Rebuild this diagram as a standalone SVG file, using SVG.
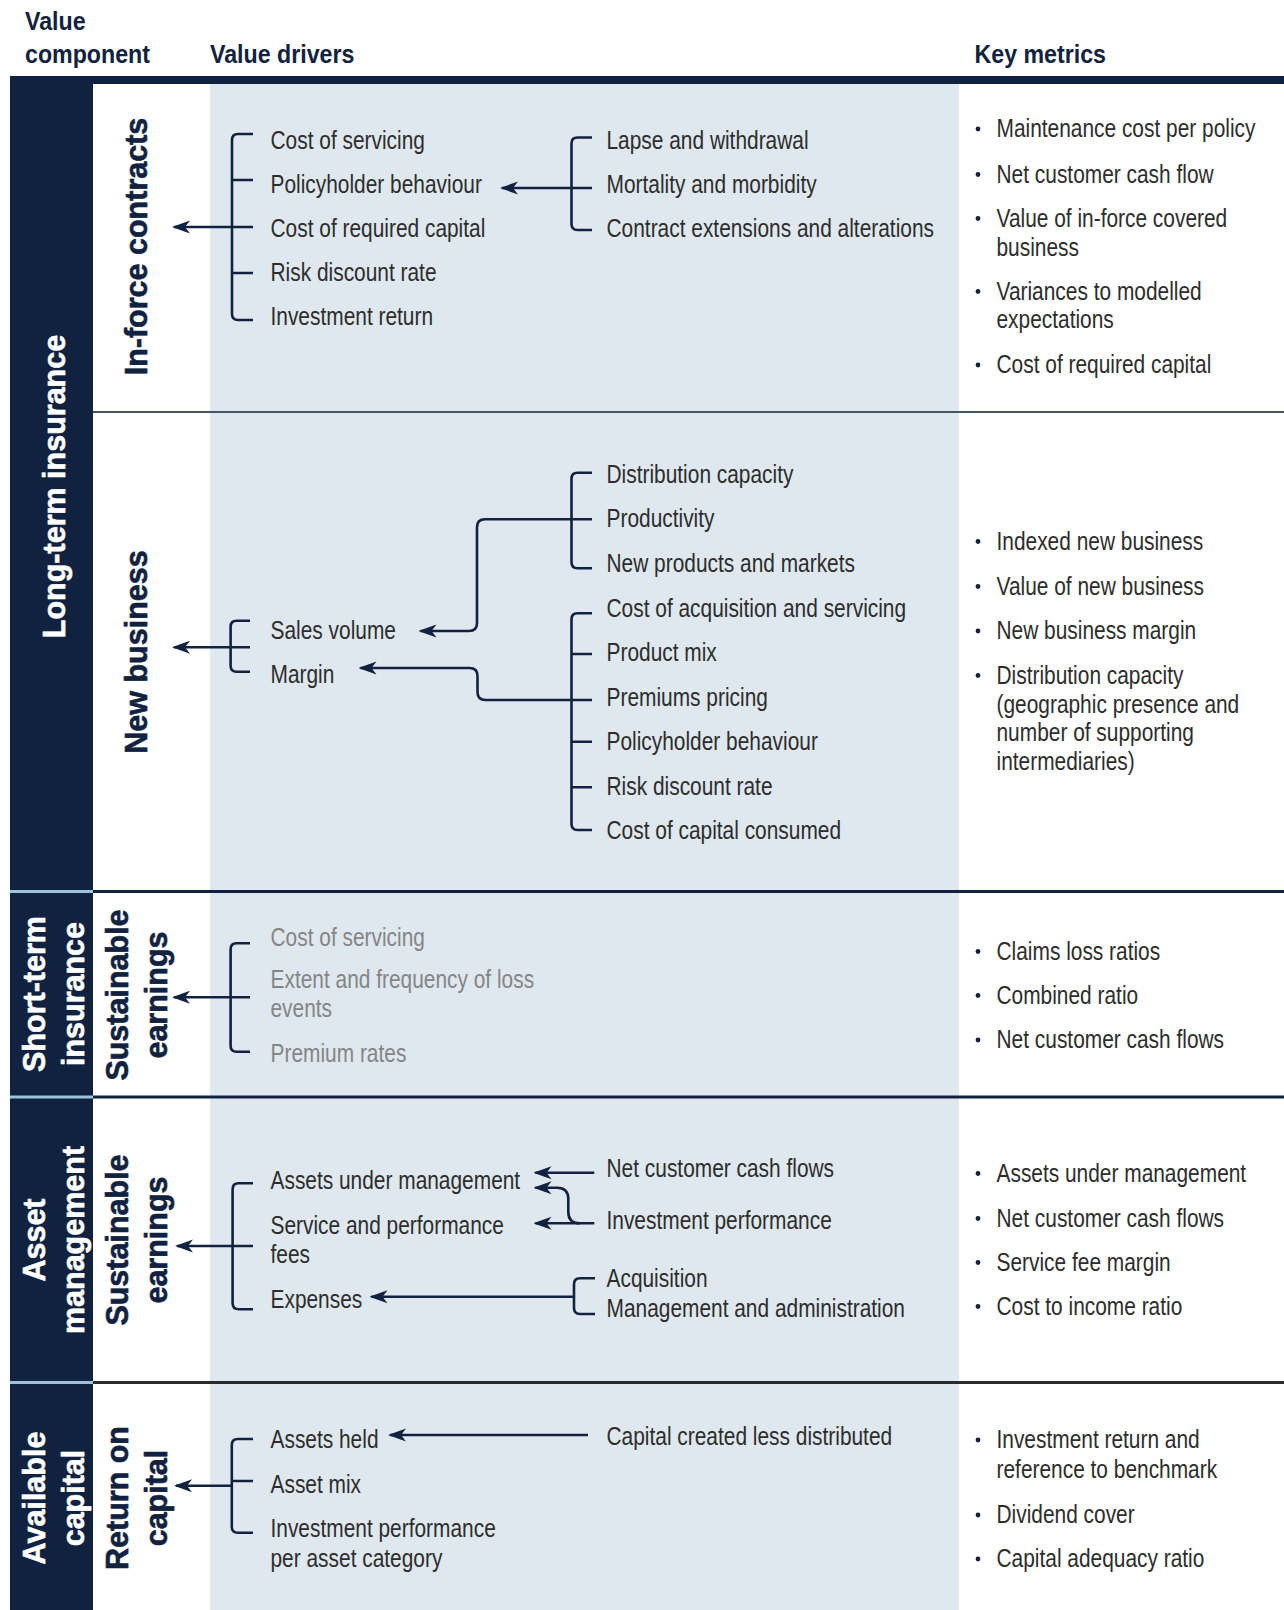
<svg xmlns="http://www.w3.org/2000/svg" width="1284" height="1610" viewBox="0 0 1284 1610">
<defs>
<style>
.t{font-family:"Liberation Sans",Arial,sans-serif;font-size:25.5px;fill:#2d2d2d}
.g{fill:#858585}
.h{font-family:"Liberation Sans",Arial,sans-serif;font-weight:bold;font-size:25.5px;fill:#10223f}
.v{font-family:"Liberation Sans",Arial,sans-serif;font-weight:bold;font-size:30.5px;text-anchor:middle;stroke-width:0.6}
.vw{fill:#ffffff;stroke:#ffffff}
.vn{fill:#10223f;stroke:#10223f}
.c{fill:none;stroke:#10223f;stroke-width:2.6}
.a{fill:none;stroke:#10223f;stroke-width:2.6;marker-end:url(#ah)}
.b{fill:#10223f}
</style>
<marker id="ah" markerUnits="userSpaceOnUse" viewBox="0 0 18 14" refX="16" refY="7" markerWidth="18" markerHeight="14" orient="auto">
<path d="M18,7 L0,0.5 L5,7 L0,13.5 Z" fill="#10223f"/>
</marker>
</defs>

<g id="background">
<rect x="0" y="0" width="1284" height="1610" fill="#ffffff"/>
<rect x="210" y="84" width="749" height="1526" fill="#dfe8ef"/>
<rect x="10" y="76" width="83" height="1534" fill="#10223f"/>
<rect x="10" y="76" width="1274" height="8" fill="#10223f"/>
<line x1="93" y1="412" x2="1284" y2="412" stroke="#44556b" stroke-width="2"/>
<line x1="93" y1="891.5" x2="1284" y2="891.5" stroke="#10223f" stroke-width="3"/>
<line x1="10" y1="891.5" x2="93" y2="891.5" stroke="#9cc2dc" stroke-width="3"/>
<line x1="93" y1="1097" x2="1284" y2="1097" stroke="#10223f" stroke-width="3"/>
<line x1="10" y1="1097" x2="93" y2="1097" stroke="#9cc2dc" stroke-width="3"/>
<line x1="93" y1="1382.5" x2="1284" y2="1382.5" stroke="#2b2b2b" stroke-width="3"/>
<line x1="10" y1="1382.5" x2="93" y2="1382.5" stroke="#9cc2dc" stroke-width="3"/>
</g>

<g id="header">
<g transform="matrix(0.91 0 0 1 25 0)">
<text class="h" x="0" y="30">Value</text>
<text class="h" x="0" y="63.5">component</text>
</g>
<g transform="matrix(0.91 0 0 1 210 0)"><text class="h" x="0" y="63.5">Value drivers</text></g>
<g transform="matrix(0.91 0 0 1 974.5 0)"><text class="h" x="0" y="63.5">Key metrics</text></g>
</g>

<g id="component-labels">
<g id="long-term-insurance"><text class="v vw" x="64.5" y="486.5" transform="rotate(-90 64.5 486.5)">Long-term insurance</text></g>
<g id="short-term-insurance">
<text class="v vw" x="44.5" y="994" transform="rotate(-90 44.5 994)">Short-term</text>
<text class="v vw" x="83.5" y="994" transform="rotate(-90 83.5 994)">insurance</text>
</g>
<g id="asset-management">
<text class="v vw" x="45" y="1240" transform="rotate(-90 45 1240)">Asset</text>
<text class="v vw" x="84" y="1240" transform="rotate(-90 84 1240)">management</text>
</g>
<g id="available-capital">
<text class="v vw" x="45" y="1498" transform="rotate(-90 45 1498)">Available</text>
<text class="v vw" x="84" y="1498" transform="rotate(-90 84 1498)">capital</text>
</g>
<g id="in-force-contracts"><text class="v vn" x="147" y="246.5" transform="rotate(-90 147 246.5)">In-force contracts</text></g>
<g id="new-business"><text class="v vn" x="147" y="652" transform="rotate(-90 147 652)">New business</text></g>
<g id="st-sustainable-earnings">
<text class="v vn" x="128" y="995" transform="rotate(-90 128 995)">Sustainable</text>
<text class="v vn" x="167" y="995" transform="rotate(-90 167 995)">earnings</text>
</g>
<g id="am-sustainable-earnings">
<text class="v vn" x="128" y="1240" transform="rotate(-90 128 1240)">Sustainable</text>
<text class="v vn" x="167" y="1240" transform="rotate(-90 167 1240)">earnings</text>
</g>
<g id="return-on-capital">
<text class="v vn" x="128" y="1498" transform="rotate(-90 128 1498)">Return on</text>
<text class="v vn" x="167" y="1498" transform="rotate(-90 167 1498)">capital</text>
</g>
</g>

<g id="drivers-in-force" transform="matrix(0.82 0 0 1 270.5 0)">
<text class="t" x="0" y="149">Cost of servicing</text>
<text class="t" x="0" y="193">Policyholder behaviour</text>
<text class="t" x="0" y="237">Cost of required capital</text>
<text class="t" x="0" y="281">Risk discount rate</text>
<text class="t" x="0" y="325">Investment return</text>
</g>
<g id="subdrivers-in-force" transform="matrix(0.82 0 0 1 606.5 0)">
<text class="t" x="0" y="149">Lapse and withdrawal</text>
<text class="t" x="0" y="193">Mortality and morbidity</text>
<text class="t" x="0" y="237">Contract extensions and alterations</text>
</g>

<g id="drivers-new-business" transform="matrix(0.82 0 0 1 270.5 0)">
<text class="t" x="0" y="639.5">Sales volume</text>
<text class="t" x="0" y="683.5">Margin</text>
</g>
<g id="subdrivers-sales-volume" transform="matrix(0.82 0 0 1 606.5 0)">
<text class="t" x="0" y="483">Distribution capacity</text>
<text class="t" x="0" y="527.5">Productivity</text>
<text class="t" x="0" y="572.5">New products and markets</text>
</g>
<g id="subdrivers-margin" transform="matrix(0.82 0 0 1 606.5 0)">
<text class="t" x="0" y="617.5">Cost of acquisition and servicing</text>
<text class="t" x="0" y="661.5">Product mix</text>
<text class="t" x="0" y="706">Premiums pricing</text>
<text class="t" x="0" y="750.5">Policyholder behaviour</text>
<text class="t" x="0" y="795">Risk discount rate</text>
<text class="t" x="0" y="839.5">Cost of capital consumed</text>
</g>

<g id="drivers-short-term" transform="matrix(0.82 0 0 1 270.5 0)">
<text class="t g" x="0" y="946">Cost of servicing</text>
<text class="t g" x="0" y="988.5">Extent and frequency of loss</text>
<text class="t g" x="0" y="1017.5">events</text>
<text class="t g" x="0" y="1062.5">Premium rates</text>
</g>

<g id="drivers-asset-management" transform="matrix(0.82 0 0 1 270.5 0)">
<text class="t" x="0" y="1189.5">Assets under management</text>
<text class="t" x="0" y="1234">Service and performance</text>
<text class="t" x="0" y="1263">fees</text>
<text class="t" x="0" y="1308.5">Expenses</text>
</g>
<g id="subdrivers-asset-management" transform="matrix(0.82 0 0 1 606.5 0)">
<text class="t" x="0" y="1177">Net customer cash flows</text>
<text class="t" x="0" y="1229.5">Investment performance</text>
<text class="t" x="0" y="1287">Acquisition</text>
<text class="t" x="0" y="1317">Management and administration</text>
</g>

<g id="drivers-available-capital" transform="matrix(0.82 0 0 1 270.5 0)">
<text class="t" x="0" y="1448.5">Assets held</text>
<text class="t" x="0" y="1493.5">Asset mix</text>
<text class="t" x="0" y="1537.5">Investment performance</text>
<text class="t" x="0" y="1567.5">per asset category</text>
</g>
<g id="subdrivers-available-capital" transform="matrix(0.82 0 0 1 606.5 0)">
<text class="t" x="0" y="1445">Capital created less distributed</text>
</g>

<g id="metrics-in-force">
<circle class="b" cx="978" cy="129" r="2.4"/>
<circle class="b" cx="978" cy="174.5" r="2.4"/>
<circle class="b" cx="978" cy="218.5" r="2.4"/>
<circle class="b" cx="978" cy="291.5" r="2.4"/>
<circle class="b" cx="978" cy="365" r="2.4"/>
<g transform="matrix(0.82 0 0 1 996.5 0)">
<text class="t" x="0" y="137.5">Maintenance cost per policy</text>
<text class="t" x="0" y="183">Net customer cash flow</text>
<text class="t" x="0" y="227">Value of in-force covered</text>
<text class="t" x="0" y="256">business</text>
<text class="t" x="0" y="300">Variances to modelled</text>
<text class="t" x="0" y="328.5">expectations</text>
<text class="t" x="0" y="373.5">Cost of required capital</text>
</g>
</g>
<g id="metrics-new-business">
<circle class="b" cx="978" cy="541.5" r="2.4"/>
<circle class="b" cx="978" cy="586.5" r="2.4"/>
<circle class="b" cx="978" cy="631" r="2.4"/>
<circle class="b" cx="978" cy="675.5" r="2.4"/>
<g transform="matrix(0.82 0 0 1 996.5 0)">
<text class="t" x="0" y="550">Indexed new business</text>
<text class="t" x="0" y="595">Value of new business</text>
<text class="t" x="0" y="639.5">New business margin</text>
<text class="t" x="0" y="684">Distribution capacity</text>
<text class="t" x="0" y="713">(geographic presence and</text>
<text class="t" x="0" y="741.5">number of supporting</text>
<text class="t" x="0" y="770">intermediaries)</text>
</g>
</g>
<g id="metrics-short-term">
<circle class="b" cx="978" cy="951.5" r="2.4"/>
<circle class="b" cx="978" cy="995.5" r="2.4"/>
<circle class="b" cx="978" cy="1040" r="2.4"/>
<g transform="matrix(0.82 0 0 1 996.5 0)">
<text class="t" x="0" y="960">Claims loss ratios</text>
<text class="t" x="0" y="1004">Combined ratio</text>
<text class="t" x="0" y="1048.5">Net customer cash flows</text>
</g>
</g>
<g id="metrics-asset-management">
<circle class="b" cx="978" cy="1173.5" r="2.4"/>
<circle class="b" cx="978" cy="1218.5" r="2.4"/>
<circle class="b" cx="978" cy="1262.5" r="2.4"/>
<circle class="b" cx="978" cy="1306.5" r="2.4"/>
<g transform="matrix(0.82 0 0 1 996.5 0)">
<text class="t" x="0" y="1182">Assets under management</text>
<text class="t" x="0" y="1227">Net customer cash flows</text>
<text class="t" x="0" y="1271">Service fee margin</text>
<text class="t" x="0" y="1315">Cost to income ratio</text>
</g>
</g>
<g id="metrics-available-capital">
<circle class="b" cx="978" cy="1440" r="2.4"/>
<circle class="b" cx="978" cy="1515" r="2.4"/>
<circle class="b" cx="978" cy="1559" r="2.4"/>
<g transform="matrix(0.82 0 0 1 996.5 0)">
<text class="t" x="0" y="1448.5">Investment return and</text>
<text class="t" x="0" y="1478.5">reference to benchmark</text>
<text class="t" x="0" y="1523.5">Dividend cover</text>
<text class="t" x="0" y="1567.5">Capital adequacy ratio</text>
</g>
</g>

<g id="connectors">
<path class="c" d="M253 134 H238 Q232 134 232 140 V314 Q232 320 238 320 H253 M232 180 H253 M232 273 H253"/>
<path class="a" d="M253 227 H174"/>
<path class="c" d="M592 137.5 H577.5 Q571.5 137.5 571.5 143.5 V224 Q571.5 230 577.5 230 H592"/>
<path class="a" d="M592 188 H502"/>
<path class="c" d="M250 620.7 H236.6 Q230.6 620.7 230.6 626.7 V665.7 Q230.6 671.7 236.6 671.7 H250"/>
<path class="a" d="M250 647.3 H174"/>
<path class="c" d="M592 472.7 H577.5 Q571.5 472.7 571.5 478.7 V562.3 Q571.5 568.3 577.5 568.3 H592"/>
<path class="a" d="M592 519.3 H485 Q477 519.3 477 527.3 V623 Q477 631 469 631 H420.5"/>
<path class="c" d="M592 613.3 H577.5 Q571.5 613.3 571.5 619.3 V824 Q571.5 830 577.5 830 H592 M571.5 654 H592 M571.5 741.7 H592 M571.5 787.3 H592"/>
<path class="a" d="M592 700 H485.5 Q477.5 700 477.5 692 V676 Q477.5 668 469.5 668 H360.5"/>
<path class="c" d="M250 943.3 H236.6 Q230.6 943.3 230.6 949.3 V1045.7 Q230.6 1051.7 236.6 1051.7 H250"/>
<path class="a" d="M250 997.3 H174"/>
<path class="c" d="M253 1183.3 H238.6 Q232.6 1183.3 232.6 1189.3 V1303.3 Q232.6 1309.3 238.6 1309.3 H253"/>
<path class="a" d="M253 1246 H177"/>
<path class="a" d="M594.3 1172.7 H535.5"/>
<path class="a" d="M594.3 1223.3 H535.5"/>
<path class="a" d="M580 1223.3 Q568.3 1223.3 568.3 1212 V1199 Q568.3 1187.7 557 1187.7 H535.5"/>
<path class="c" d="M595 1278.3 H580 Q574 1278.3 574 1284.3 V1308 Q574 1314 580 1314 H595"/>
<path class="a" d="M574 1296.7 H371.5"/>
<path class="c" d="M253 1439 H237.8 Q231.8 1439 231.8 1445 V1526.7 Q231.8 1532.7 237.8 1532.7 H253 M231.8 1481 H253"/>
<path class="a" d="M231.8 1485.7 H176"/>
<path class="a" d="M588 1435 H390"/>
</g>
</svg>
